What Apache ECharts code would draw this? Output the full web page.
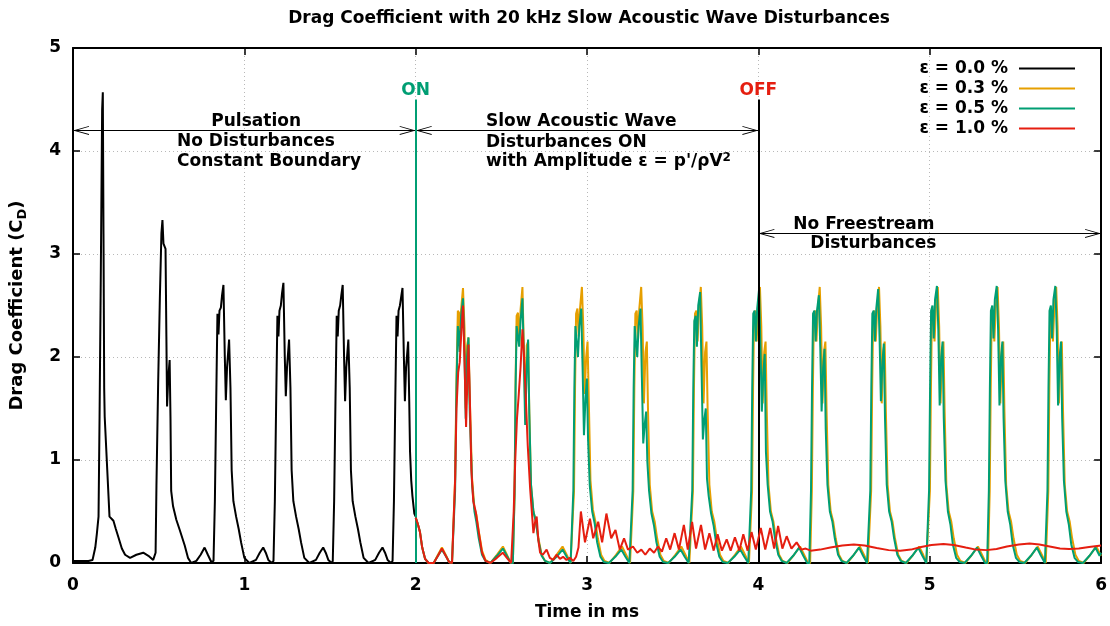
<!DOCTYPE html>
<html>
<head>
<meta charset="utf-8">
<script src="https://cdn.jsdelivr.net/npm/echarts@6/dist/echarts.min.js"></script>
<style>html,body{margin:0;padding:0;background:#fff;}#chart{width:1110px;height:626px;}</style>
</head>
<body>
<div id="chart"></div>
<script>
// ---------------- DATA (time in ms, drag coefficient) ----------------
const seriesNames = ['ε = 0.0 %', 'ε = 0.3 %', 'ε = 0.5 %', 'ε = 1.0 %'];
const xTicks = [0, 1, 2, 3, 4, 5, 6];
const yTicks = [0, 1, 2, 3, 4, 5];

const eps00 = [
[0,0.02],[0.09,0.02],[0.114,0.03],[0.130,0.15],[0.139,0.28],[0.149,0.45],[0.155,1.42],[0.162,2.75],[0.170,4.4],[0.174,4.57],[0.178,3.2],[0.182,1.7],[0.185,1.42],[0.200,0.9],[0.213,0.45],[0.225,0.43],[0.236,0.41],[0.250,0.33],[0.265,0.25],[0.285,0.14],[0.304,0.08],[0.333,0.05],[0.370,0.08],[0.410,0.1],[0.440,0.07],[0.468,0.03],[0.478,0.02],
[0.482,0.1],[0.487,0.75],[0.497,1.75],[0.507,2.58],[0.516,3.2],[0.522,3.33],[0.528,3.1],[0.540,3.05],[0.545,2.2],[0.549,1.52],[0.556,1.8],[0.564,1.97],[0.569,1.4],[0.573,0.7],[0.584,0.55],[0.603,0.42],[0.623,0.32],[0.652,0.17],[0.671,0.05],[0.690,0.0],[0.720,0.02],[0.745,0.08],[0.768,0.15],[0.787,0.08],[0.807,0.01],[0.820,0.02],
[0.828,0.6],[0.836,1.6],[0.843,2.42],[0.849,2.22],[0.855,2.45],[0.863,2.48],[0.870,2.6],[0.878,2.7],[0.886,2.0],[0.892,1.58],[0.899,1.9],[0.911,2.17],[0.919,1.7],[0.926,0.9],[0.936,0.6],[0.952,0.45],[0.967,0.33],[0.981,0.2],[1.000,0.05],[1.029,0.0],[1.068,0.03],[1.090,0.1],[1.110,0.15],[1.125,0.1],[1.140,0.03],[1.160,0.0],
[1.170,0.02],[1.178,0.6],[1.186,1.6],[1.193,2.4],[1.199,2.2],[1.205,2.45],[1.213,2.5],[1.220,2.62],[1.228,2.72],[1.236,2.0],[1.242,1.62],[1.249,1.9],[1.261,2.17],[1.269,1.7],[1.276,0.9],[1.286,0.6],[1.302,0.45],[1.317,0.33],[1.331,0.2],[1.350,0.05],[1.379,0.0],[1.418,0.03],[1.440,0.1],[1.460,0.15],[1.475,0.1],[1.490,0.03],[1.510,0.0],
[1.516,0.02],[1.524,0.6],[1.532,1.6],[1.539,2.4],[1.545,2.2],[1.551,2.45],[1.559,2.5],[1.566,2.6],[1.574,2.7],[1.582,2.0],[1.588,1.57],[1.595,1.9],[1.607,2.17],[1.615,1.7],[1.622,0.9],[1.632,0.6],[1.648,0.45],[1.663,0.33],[1.677,0.2],[1.696,0.05],[1.725,0.0],[1.764,0.03],[1.786,0.1],[1.806,0.15],[1.821,0.1],[1.836,0.03],[1.856,0.0],
[1.865,0.02],[1.873,0.6],[1.881,1.6],[1.888,2.4],[1.894,2.2],[1.900,2.45],[1.908,2.5],[1.915,2.58],[1.923,2.67],[1.931,2.0],[1.937,1.57],[1.944,1.9],[1.956,2.15],[1.962,1.6],[1.967,1.08],[1.974,0.8],[1.981,0.65],[1.992,0.48],[2.000,0.45]
];

const eps03 = [
[2.000,0.44],[2.012,0.38],[2.025,0.3],[2.038,0.15],[2.055,0.04],[2.075,0.0],[2.105,0.0],[2.130,0.08],[2.153,0.15],[2.175,0.08],[2.195,0.01],[2.212,0.0],
[2.218,0.0],[2.230,0.82],[2.238,1.79],[2.246,2.45],[2.253,2.43],[2.257,2.11],[2.265,2.46],[2.276,2.67],[2.285,2.28],[2.292,1.5],[2.300,2.11],[2.308,2.19],[2.315,1.64],[2.329,0.82],[2.343,0.53],[2.354,0.47],[2.368,0.31],[2.387,0.12],[2.407,0.03],[2.436,0.0],[2.474,0.08],[2.509,0.16],[2.532,0.08],[2.555,0.0],
[2.567,0.0],[2.577,0.66],[2.583,1.79],[2.589,2.4],[2.597,2.43],[2.604,2.11],[2.612,2.46],[2.623,2.68],[2.631,2.11],[2.639,1.5],[2.648,2.11],[2.656,2.15],[2.663,1.47],[2.673,0.76],[2.687,0.5],[2.702,0.4],[2.716,0.24],[2.735,0.08],[2.755,0.02],[2.784,0.0],[2.822,0.08],[2.857,0.16],[2.881,0.08],[2.904,0.0],
[2.914,0.0],[2.924,0.7],[2.930,1.7],[2.936,2.42],[2.944,2.47],[2.951,2.2],[2.959,2.47],[2.970,2.68],[2.978,2.3],[2.986,1.64],[2.995,2.0],[3.003,2.15],[3.010,1.6],[3.020,0.8],[3.034,0.52],[3.049,0.4],[3.063,0.24],[3.082,0.08],[3.102,0.02],[3.131,0.0],[3.169,0.08],[3.204,0.16],[3.228,0.08],[3.251,0.0],
[3.260,0.0],[3.270,0.7],[3.276,1.7],[3.282,2.42],[3.290,2.45],[3.297,2.15],[3.305,2.47],[3.316,2.68],[3.324,2.3],[3.332,1.55],[3.341,2.05],[3.349,2.15],[3.356,1.47],[3.366,0.76],[3.380,0.5],[3.395,0.4],[3.409,0.24],[3.428,0.08],[3.448,0.02],[3.477,0.0],[3.515,0.08],[3.550,0.16],[3.574,0.08],[3.597,0.0],
[3.608,0.0],[3.618,0.7],[3.624,1.7],[3.630,2.42],[3.638,2.45],[3.645,2.15],[3.653,2.47],[3.664,2.68],[3.672,2.3],[3.680,1.55],[3.689,2.05],[3.697,2.15],[3.704,1.47],[3.714,0.76],[3.728,0.5],[3.743,0.4],[3.757,0.24],[3.776,0.08],[3.796,0.02],[3.825,0.0],[3.863,0.08],[3.898,0.16],[3.922,0.08],[3.945,0.0],
[3.953,0.0],[3.963,0.7],[3.969,1.7],[3.975,2.42],[3.983,2.45],[3.990,2.15],[3.998,2.47],[4.009,2.68],[4.017,2.3],[4.025,1.55],[4.034,2.05],[4.042,2.15],[4.049,1.47],[4.059,0.76],[4.073,0.5],[4.088,0.4],[4.102,0.24],[4.121,0.08],[4.141,0.02],[4.170,0.0],[4.208,0.08],[4.243,0.16],[4.267,0.08],[4.290,0.0],
[4.302,0.0],[4.312,0.7],[4.318,1.7],[4.324,2.42],[4.332,2.45],[4.339,2.15],[4.347,2.47],[4.358,2.68],[4.366,2.3],[4.374,1.55],[4.383,2.05],[4.391,2.15],[4.398,1.47],[4.408,0.76],[4.422,0.5],[4.437,0.4],[4.451,0.24],[4.470,0.08],[4.490,0.02],[4.519,0.0],[4.557,0.08],[4.592,0.16],[4.616,0.08],[4.639,0.0],
[4.648,0.0],[4.658,0.7],[4.664,1.7],[4.670,2.42],[4.678,2.45],[4.685,2.15],[4.693,2.47],[4.704,2.68],[4.712,2.3],[4.720,1.55],[4.729,2.05],[4.737,2.15],[4.744,1.47],[4.754,0.76],[4.768,0.5],[4.783,0.4],[4.797,0.24],[4.816,0.08],[4.836,0.02],[4.865,0.0],[4.903,0.08],[4.938,0.16],[4.962,0.08],[4.980,0.0],
[4.991,0.0],[5.001,0.7],[5.007,1.7],[5.013,2.42],[5.021,2.45],[5.028,2.15],[5.036,2.47],[5.047,2.68],[5.055,2.3],[5.063,1.55],[5.072,2.05],[5.080,2.15],[5.087,1.47],[5.097,0.76],[5.111,0.5],[5.126,0.4],[5.140,0.24],[5.159,0.08],[5.179,0.02],[5.208,0.0],[5.246,0.08],[5.281,0.16],[5.305,0.08],[5.328,0.0],
[5.340,0.0],[5.350,0.7],[5.356,1.7],[5.362,2.42],[5.370,2.45],[5.377,2.15],[5.385,2.47],[5.396,2.68],[5.404,2.3],[5.412,1.55],[5.421,2.05],[5.429,2.15],[5.436,1.47],[5.446,0.76],[5.460,0.5],[5.475,0.4],[5.489,0.24],[5.508,0.08],[5.528,0.02],[5.557,0.0],[5.595,0.08],[5.630,0.16],[5.654,0.08],[5.677,0.0],
[5.682,0.0],[5.692,0.7],[5.698,1.7],[5.704,2.42],[5.712,2.45],[5.719,2.15],[5.727,2.47],[5.738,2.68],[5.746,2.3],[5.754,1.55],[5.763,2.05],[5.771,2.15],[5.778,1.47],[5.788,0.76],[5.802,0.5],[5.817,0.4],[5.831,0.24],[5.850,0.08],[5.870,0.02],[5.899,0.0],[5.937,0.08],[5.972,0.16],[5.996,0.08],[6.000,0.07]
];

const eps05 = [
[2.000,0.44],[2.012,0.38],[2.025,0.3],[2.038,0.15],[2.055,0.04],[2.075,0.0],[2.105,0.0],[2.130,0.07],[2.153,0.13],[2.175,0.07],[2.195,0.01],[2.212,0.0],
[2.218,0.0],[2.230,0.7],[2.238,1.7],[2.246,2.3],[2.253,2.2],[2.257,2.05],[2.265,2.4],[2.276,2.57],[2.285,2.0],[2.292,1.4],[2.300,2.0],[2.308,2.19],[2.315,1.5],[2.329,0.76],[2.343,0.5],[2.354,0.4],[2.368,0.24],[2.387,0.08],[2.407,0.02],[2.436,0.0],[2.474,0.07],[2.509,0.14],[2.532,0.07],[2.555,0.0],
[2.567,0.0],[2.577,0.66],[2.583,1.7],[2.589,2.3],[2.597,2.3],[2.604,2.1],[2.612,2.35],[2.623,2.57],[2.631,2.0],[2.639,1.34],[2.648,1.9],[2.656,2.17],[2.663,1.45],[2.673,0.76],[2.687,0.5],[2.702,0.4],[2.716,0.22],[2.735,0.07],[2.755,0.02],[2.784,0.0],[2.822,0.06],[2.857,0.13],[2.881,0.06],[2.904,0.0],
[2.910,0.0],[2.920,0.7],[2.926,1.7],[2.932,2.3],[2.940,2.3],[2.947,2.0],[2.955,2.3],[2.966,2.47],[2.974,1.9],[2.982,1.24],[2.991,1.6],[2.999,1.79],[3.006,1.2],[3.016,0.75],[3.030,0.5],[3.045,0.38],[3.059,0.2],[3.078,0.06],[3.098,0.01],[3.127,0.0],[3.165,0.06],[3.200,0.13],[3.224,0.06],[3.247,0.0],
[3.256,0.0],[3.266,0.7],[3.272,1.7],[3.278,2.3],[3.286,2.3],[3.293,2.0],[3.301,2.3],[3.312,2.47],[3.320,1.8],[3.328,1.16],[3.337,1.35],[3.345,1.47],[3.352,0.98],[3.362,0.7],[3.376,0.48],[3.391,0.36],[3.405,0.2],[3.424,0.06],[3.444,0.01],[3.473,0.0],[3.511,0.06],[3.546,0.13],[3.570,0.06],[3.593,0.0],
[3.604,0.0],[3.614,0.7],[3.620,1.7],[3.626,2.35],[3.634,2.4],[3.641,2.1],[3.649,2.5],[3.660,2.63],[3.668,1.9],[3.676,1.2],[3.685,1.4],[3.693,1.5],[3.700,0.82],[3.710,0.65],[3.724,0.48],[3.739,0.36],[3.753,0.2],[3.772,0.06],[3.792,0.01],[3.821,0.0],[3.859,0.06],[3.894,0.13],[3.918,0.06],[3.941,0.0],
[3.948,0.0],[3.958,0.7],[3.964,1.7],[3.970,2.42],[3.978,2.45],[3.985,2.15],[3.993,2.47],[4.004,2.66],[4.012,2.1],[4.020,1.47],[4.029,1.85],[4.037,2.03],[4.044,1.08],[4.054,0.76],[4.068,0.5],[4.083,0.4],[4.097,0.24],[4.116,0.08],[4.136,0.02],[4.165,0.0],[4.203,0.07],[4.238,0.15],[4.262,0.07],[4.285,0.0],
[4.297,0.0],[4.307,0.7],[4.313,1.7],[4.319,2.42],[4.327,2.45],[4.334,2.15],[4.342,2.45],[4.353,2.6],[4.361,2.1],[4.369,1.47],[4.378,1.9],[4.386,2.08],[4.393,1.3],[4.403,0.76],[4.417,0.5],[4.432,0.4],[4.446,0.24],[4.465,0.08],[4.485,0.02],[4.514,0.0],[4.552,0.07],[4.587,0.15],[4.611,0.07],[4.634,0.0],
[4.643,0.0],[4.653,0.7],[4.659,1.7],[4.665,2.42],[4.673,2.45],[4.680,2.15],[4.688,2.47],[4.699,2.66],[4.707,2.2],[4.715,1.57],[4.724,1.95],[4.732,2.13],[4.739,1.4],[4.749,0.76],[4.763,0.5],[4.778,0.4],[4.792,0.24],[4.811,0.08],[4.831,0.02],[4.860,0.0],[4.898,0.07],[4.933,0.15],[4.957,0.07],[4.980,0.0],
[4.986,0.0],[4.996,0.7],[5.002,1.7],[5.008,2.45],[5.016,2.5],[5.023,2.18],[5.031,2.56],[5.042,2.69],[5.050,2.27],[5.058,1.53],[5.067,2.0],[5.075,2.15],[5.082,1.4],[5.092,0.8],[5.106,0.5],[5.121,0.37],[5.135,0.18],[5.154,0.05],[5.174,0.01],[5.203,0.0],[5.241,0.07],[5.276,0.15],[5.300,0.07],[5.323,0.0],
[5.335,0.0],[5.345,0.7],[5.351,1.7],[5.357,2.45],[5.365,2.5],[5.372,2.18],[5.380,2.56],[5.391,2.69],[5.399,2.27],[5.407,1.53],[5.416,2.0],[5.424,2.15],[5.431,1.4],[5.441,0.8],[5.455,0.5],[5.470,0.37],[5.484,0.18],[5.503,0.05],[5.523,0.01],[5.552,0.0],[5.590,0.07],[5.625,0.15],[5.649,0.07],[5.672,0.0],
[5.677,0.0],[5.687,0.7],[5.693,1.7],[5.699,2.45],[5.707,2.5],[5.714,2.18],[5.722,2.56],[5.733,2.69],[5.741,2.27],[5.749,1.53],[5.758,2.0],[5.766,2.15],[5.773,1.4],[5.783,0.8],[5.797,0.5],[5.812,0.37],[5.826,0.18],[5.845,0.05],[5.865,0.01],[5.894,0.0],[5.932,0.07],[5.967,0.15],[5.991,0.07],[6.000,0.1]
];

const eps10 = [
[2.000,0.44],[2.012,0.38],[2.025,0.3],[2.038,0.15],[2.055,0.04],[2.075,0.0],[2.105,0.0],[2.130,0.07],[2.153,0.14],[2.175,0.07],[2.195,0.01],[2.212,0.0],
[2.220,0.0],[2.230,0.8],[2.238,1.5],[2.248,1.85],[2.257,1.95],[2.268,2.3],[2.276,2.5],[2.286,1.89],[2.294,1.32],[2.302,1.8],[2.308,2.12],[2.316,1.6],[2.325,0.9],[2.336,0.6],[2.350,0.5],[2.368,0.3],[2.387,0.1],[2.407,0.02],[2.436,0.0],[2.474,0.05],[2.508,0.1],[2.532,0.05],[2.557,0.0],
[2.562,0.0],[2.572,0.5],[2.581,1.0],[2.591,1.4],[2.600,1.6],[2.612,1.9],[2.623,2.27],[2.631,2.05],[2.639,1.75],[2.654,1.14],[2.668,0.72],[2.687,0.29],[2.697,0.4],[2.706,0.45],[2.716,0.22],[2.726,0.1],
[2.742,0.08],[2.764,0.13],[2.783,0.05],[2.803,0.03],[2.822,0.08],[2.842,0.04],[2.860,0.06],[2.880,0.03],[2.900,0.05],[2.920,0.02],[2.936,0.06],[2.950,0.15],
[2.964,0.5],[2.988,0.2],[3.017,0.43],[3.036,0.24],[3.065,0.4],[3.088,0.2],[3.113,0.48],[3.141,0.24],[3.166,0.32],[3.191,0.13],[3.216,0.24],[3.239,0.13],[3.268,0.16],[3.293,0.1],[3.317,0.13],[3.340,0.08],[3.366,0.14],[3.391,0.1],[3.414,0.16],[3.437,0.11],[3.462,0.24],[3.485,0.13],[3.511,0.29],[3.536,0.13],[3.565,0.37],[3.588,0.13],[3.613,0.4],[3.636,0.14],[3.665,0.37],[3.689,0.13],[3.714,0.29],[3.739,0.12],[3.762,0.28],[3.787,0.12],[3.815,0.23],[3.838,0.12],[3.863,0.25],[3.889,0.12],[3.912,0.28],[3.937,0.12],[3.960,0.3],[3.985,0.13],[4.014,0.34],[4.040,0.13],[4.069,0.34],[4.092,0.14],[4.115,0.36],[4.140,0.14],[4.165,0.26],[4.193,0.14],[4.223,0.2],[4.250,0.13],[4.276,0.14],[4.305,0.12],
[4.36,0.13],[4.42,0.15],[4.49,0.17],[4.557,0.18],[4.62,0.17],[4.69,0.145],[4.76,0.125],[4.828,0.12],[4.89,0.13],[4.95,0.155],[5.01,0.175],[5.080,0.185],[5.14,0.175],[5.21,0.15],[5.27,0.13],[5.331,0.125],[5.39,0.135],[5.45,0.16],[5.52,0.18],[5.583,0.19],[5.64,0.18],[5.70,0.16],[5.76,0.14],[5.813,0.135],[5.87,0.14],[5.93,0.155],[6.00,0.17]
];

// ---------------- CHART ----------------
const FONT = 'DejaVu Sans';
const COLORS = ['#000000', '#e69f00', '#009e73', '#e51e10'];
const chart = echarts.init(document.getElementById('chart'), null, {renderer: 'canvas'});

// open "V" arrow head, tip at the centre of the symbol box
const arrowHead = 'path://M5,0 L5.01,0 L5,0.01 Z M5,10 L10,20 L9,20 L5,12 L1,20 L0,20 Z';

const baseText = {fontFamily: FONT, fontWeight: 'bold', color: '#000'};

function makeAxis(extra) {
  return Object.assign({
    type: 'value',
    axisLine: {show: true, onZero: false, lineStyle: {color: '#000', width: 2}},
    axisTick: {show: true, inside: true, length: 7, lineStyle: {color: '#000', width: 1.5}},
    splitLine: {show: false},
    axisLabel: {show: false}
  }, extra);
}

const gridDots = {show: true, lineStyle: {color: '#b8b8b8', width: 1, type: [1, 3]}};

const option = {
  animation: false,
  backgroundColor: '#ffffff',
  title: {
    text: 'Drag Coefficient with 20 kHz Slow Acoustic Wave Disturbances',
    left: 584, top: 5, textAlign: 'center',
    textStyle: Object.assign({}, baseText, {fontSize: 17})
  },
  grid: {left: 73, right: 5, top: 48, bottom: 61},
  legend: {
    data: seriesNames,
    orient: 'vertical', right: 30, top: 55, align: 'right',
    icon: 'rect', itemWidth: 56, itemHeight: 2, itemGap: 3,
    textStyle: Object.assign({}, baseText, {fontSize: 17, padding: [0, 6, 0, 0]})
  },
  xAxis: [
    makeAxis({
      position: 'bottom', min: xTicks[0], max: xTicks[xTicks.length - 1], interval: 1,
      splitLine: gridDots,
      axisLabel: Object.assign({show: true, fontSize: 17, margin: 14}, baseText),
      name: 'Time in ms', nameLocation: 'middle', nameGap: 41,
      nameTextStyle: Object.assign({fontSize: 17}, baseText)
    }),
    makeAxis({position: 'top', min: xTicks[0], max: xTicks[xTicks.length - 1], interval: 1})
  ],
  yAxis: [
    makeAxis({
      position: 'left', min: yTicks[0], max: yTicks[yTicks.length - 1], interval: 1,
      splitLine: gridDots,
      axisLabel: Object.assign({show: true, fontSize: 17, margin: 12}, baseText),
      name: 'Drag Coefficient (C{sub|D})', nameLocation: 'middle', nameGap: 44, nameRotate: 90,
      nameTextStyle: Object.assign({fontSize: 18,
        rich: {sub: {fontFamily: FONT, fontWeight: 'bold', fontSize: 13, color: '#000', padding: [10, 0, 0, 0]}}}, baseText)
    }),
    makeAxis({position: 'right', min: yTicks[0], max: yTicks[yTicks.length - 1], interval: 1})
  ],
  series: [
    {
      name: seriesNames[0], type: 'line', data: eps00, showSymbol: false, symbol: 'none',
      lineStyle: {color: COLORS[0], width: 2}, itemStyle: {color: COLORS[0]}, z: 2,
      markLine: {
        silent: true, animation: false,
        symbol: [arrowHead, arrowHead], symbolSize: [9, 32],
        lineStyle: {color: '#000', width: 1, type: 'solid'},
        label: {show: false},
        data: [
          [{coord: [0, 4.2]}, {coord: [2, 4.2]}],
          [{coord: [2, 4.2]}, {coord: [4, 4.2]}],
          [{coord: [4, 3.2]}, {coord: [6, 3.2]}]
        ]
      }
    },
    {
      name: seriesNames[1], type: 'line', data: eps03, showSymbol: false, symbol: 'none',
      lineStyle: {color: COLORS[1], width: 2}, itemStyle: {color: COLORS[1]}, z: 3
    },
    {
      name: seriesNames[2], type: 'line', data: eps05, showSymbol: false, symbol: 'none',
      lineStyle: {color: COLORS[2], width: 2}, itemStyle: {color: COLORS[2]}, z: 4,
      markPoint: {
        silent: true, animation: false, symbol: 'circle', symbolSize: 0,
        label: Object.assign({show: true, position: 'right', distance: 0, fontSize: 17,
          rich: {sup: {fontFamily: FONT, fontWeight: 'bold', fontSize: 12, color: '#000', padding: [0, 0, 8, 0]}}}, baseText),
        data: [
          {coord: [0.807, 4.29], label: {formatter: 'Pulsation'}},
          {coord: [0.607, 4.093], label: {formatter: 'No Disturbances'}},
          {coord: [0.607, 3.895], label: {formatter: 'Constant Boundary'}},
          {coord: [2.410, 4.287], label: {formatter: 'Slow Acoustic Wave'}},
          {coord: [2.410, 4.084], label: {formatter: 'Disturbances ON'}},
          {coord: [2.410, 3.894], label: {formatter: "with Amplitude ε = p'/ρV{sup|2}"}},
          {coord: [4.204, 3.29], label: {formatter: 'No Freestream'}},
          {coord: [4.303, 3.097], label: {formatter: 'Disturbances'}}
        ]
      }
    },
    {
      name: seriesNames[3], type: 'line', data: eps10, showSymbol: false, symbol: 'none',
      lineStyle: {color: COLORS[3], width: 2}, itemStyle: {color: COLORS[3]}, z: 5,
      markLine: {
        silent: true, animation: false, symbol: ['none', 'none'],
        data: [
          [{coord: [2, 0], lineStyle: {color: COLORS[2], width: 2, type: 'solid'},
            label: {show: true, position: 'end', distance: 0, formatter: 'ON', color: COLORS[2], fontFamily: FONT, fontWeight: 'bold', fontSize: 17}},
           {coord: [2, 4.5]}],
          [{coord: [4, 0], lineStyle: {color: '#000', width: 2, type: 'solid'},
            label: {show: true, position: 'end', distance: 0, formatter: 'OFF', color: COLORS[3], fontFamily: FONT, fontWeight: 'bold', fontSize: 17}},
           {coord: [4, 4.5]}]
        ]
      }
    }
  ]
};
chart.setOption(option);
</script>
</body>
</html>
